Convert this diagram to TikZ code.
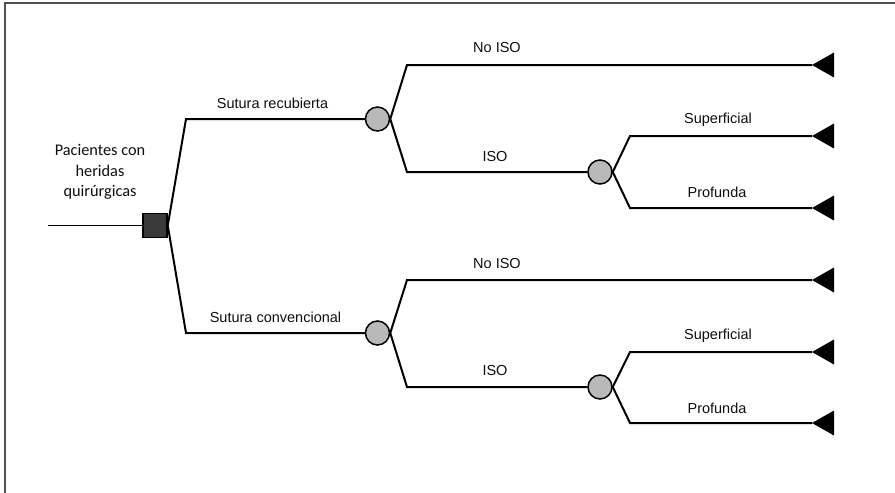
\documentclass[tikz,border=0pt]{standalone}
\usepackage{fontspec}
\setmainfont{Liberation Sans}
\newfontfamily\notefont{Carlito}
\definecolor{chancegray}{RGB}{185,185,185}
\definecolor{decgray}{RGB}{58,58,58}
\definecolor{framegray}{RGB}{80,80,80}
\definecolor{inkgray}{RGB}{15,15,15}
\begin{document}
\begin{tikzpicture}[x=1pt,y=-1pt,
  branch/.style={line width=2pt, black},
  chance/.style={circle, draw=black, line width=1.5pt, fill=chancegray,
    minimum size=24pt, inner sep=0pt},
  decision/.style={rectangle, draw=black, line width=1.5pt, fill=decgray,
    minimum size=24pt, inner sep=0pt},
  lbl/.style={font=\fontsize{14.5}{16}\selectfont, text=inkgray, inner sep=0pt},
  endmark/.style={fill=black},
]
\useasboundingbox (0,0) rectangle (895,493);

% frame (top and left edges)
\draw[framegray, line width=1.2pt] (5,493) -- (5,3) -- (895,3);

% root text and decision node
\node[align=center, text=inkgray, inner sep=0pt,
      font=\notefont\fontsize{16.3}{20.5}\selectfont] (root) at (100,172)
  {Pacientes con\\heridas\\quirúrgicas};
\node[decision] (d) at (155,225.5) {};
\coordinate (in) at (48,225.5);
\draw[line width=0.9pt] (in) -- (d.west);

% chance nodes
\node[chance] (c1) at (377.5,119) {};
\node[chance] (c2) at (600,172) {};
\node[chance] (c3) at (377.5,333) {};
\node[chance] (c4) at (600,387) {};

% corner points of the branches
\coordinate (k1) at (186,119);
\coordinate (k2) at (186,333);
\coordinate (u1) at (407,65);
\coordinate (u2) at (407,172);
\coordinate (v1) at (630,136);
\coordinate (v2) at (630,208);
\coordinate (u3) at (407,280);
\coordinate (u4) at (407,387);
\coordinate (v3) at (630,352);
\coordinate (v4) at (630,423);

% terminal points (tips of the end triangles)
\foreach \n/\yy in {t1/65, t2/136, t3/208, t4/280, t5/352, t6/423}{
  \coordinate (\n) at (812,\yy);
  \fill[endmark] (\n) -- ++(22,-12.5) -- ++(0,25) -- cycle;
}

% branches
\draw[branch] (d.east) -- (k1) -- (c1.west);
\draw[branch] (d.east) -- (k2) -- (c3.west);
\draw[branch] (c1.east) -- (u1) -- (t1);
\draw[branch] (c1.east) -- (u2) -- (c2.west);
\draw[branch] (c2.east) -- (v1) -- (t2);
\draw[branch] (c2.east) -- (v2) -- (t3);
\draw[branch] (c3.east) -- (u3) -- (t4);
\draw[branch] (c3.east) -- (u4) -- (c4.west);
\draw[branch] (c4.east) -- (v3) -- (t5);
\draw[branch] (c4.east) -- (v4) -- (t6);

% branch labels
\node[lbl] (l1) at (272.5,103) {Sutura recubierta};
\node[lbl] (l2) at (275.5,317.5) {Sutura convencional};
\node[lbl] (l3) at (497,48) {No ISO};
\node[lbl] (l4) at (495,157) {ISO};
\node[lbl] (l5) at (718,120) {Superficial};
\node[lbl] (l6) at (717,192) {Profunda};
\node[lbl] (l7) at (497,264) {No ISO};
\node[lbl] (l8) at (495,371) {ISO};
\node[lbl] (l9) at (718,336) {Superficial};
\node[lbl] (l10) at (717,408) {Profunda};
\end{tikzpicture}
\end{document}
